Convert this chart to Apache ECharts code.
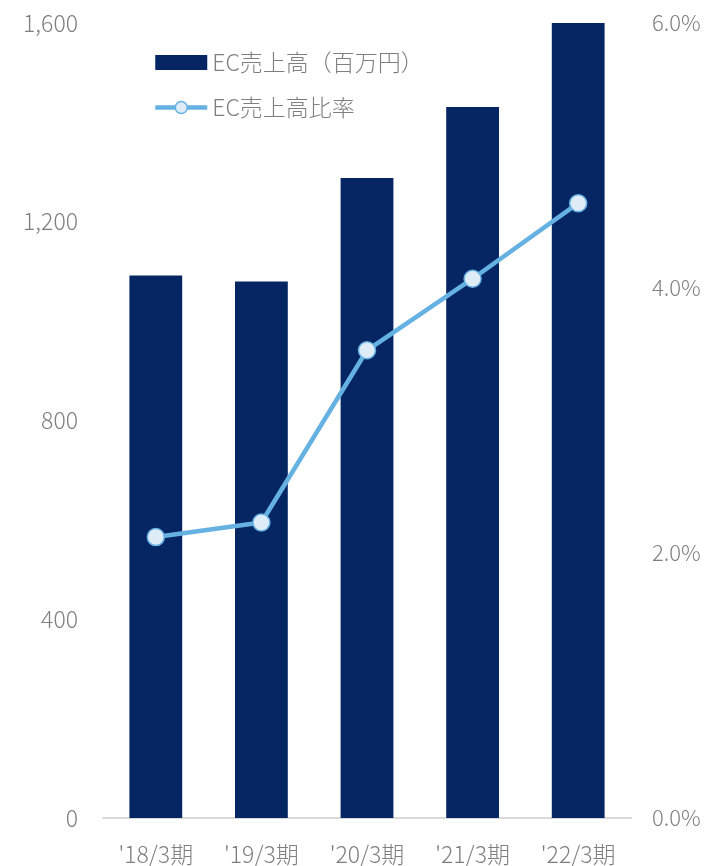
<!DOCTYPE html>
<html>
<head>
<meta charset="utf-8">
<script src="https://cdn.jsdelivr.net/npm/echarts@6/dist/echarts.min.js"></script>
<style>
  html, body { margin: 0; padding: 0; background: #fff; }
  #chart { width: 705px; height: 866px; }
</style>
</head>
<body>
<div id="chart"></div>
<script>
// Fiscal periods and EC sales figures
const categories = ["'18/3期", "'19/3期", "'20/3期", "'21/3期", "'22/3期"];
const ecSales = [1092, 1080, 1288, 1431, 1600];      // 百万円
const ecRatio = [2.12, 2.23, 3.53, 4.07, 4.64];      // %
const salesTicks = [0, 400, 800, 1200, 1600];
const ratioTicks = [0, 2, 4, 6];

const FONT = '"Noto Sans CJK JP", "Noto Sans", sans-serif';
const GRAY = '#7f7f7f';
const LINE_BLUE = '#65b1e2';
const DOT_FILL = '#deecf8';

const chart = echarts.init(document.getElementById('chart'), null, { renderer: 'canvas' });

chart.setOption({
  animation: false,
  textStyle: { fontFamily: FONT },
  grid: { left: 103, right: 74, top: 23, bottom: 48 },
  legend: {
    orient: 'vertical',
    left: 148,
    top: 46,
    itemWidth: 52,
    itemHeight: 15,
    itemGap: 22,
    textStyle: { color: GRAY, fontSize: 23, fontFamily: FONT, fontWeight: 300 },
    data: [
      { name: 'EC売上高（百万円）', icon: 'rect' },
      {
        name: 'EC売上高比率',
        lineStyle: { color: LINE_BLUE, width: 4.5 },
        itemStyle: { color: DOT_FILL, borderColor: LINE_BLUE, borderWidth: 1.5 }
      }
    ]
  },
  xAxis: {
    type: 'category',
    data: categories,
    axisLine: { lineStyle: { color: '#d9d9d9', width: 2 } },
    axisTick: { show: false },
    axisLabel: { color: GRAY, fontSize: 23, fontWeight: 300, margin: 25 }
  },
  yAxis: [
    {
      type: 'value',
      min: salesTicks[0],
      max: salesTicks[salesTicks.length - 1],
      interval: salesTicks[1] - salesTicks[0],
      splitLine: { show: false },
      axisLine: { show: false },
      axisTick: { show: false },
      axisLabel: {
        color: GRAY, fontSize: 23, fontWeight: 300, margin: 25,
        formatter: v => v.toLocaleString('en-US')
      }
    },
    {
      type: 'value',
      min: ratioTicks[0],
      max: ratioTicks[ratioTicks.length - 1],
      interval: ratioTicks[1] - ratioTicks[0],
      splitLine: { show: false },
      axisLine: { show: false },
      axisTick: { show: false },
      axisLabel: {
        color: GRAY, fontSize: 22, fontWeight: 300, margin: 21,
        formatter: v => v.toFixed(1) + '%'
      }
    }
  ],
  series: [
    {
      name: 'EC売上高（百万円）',
      type: 'bar',
      yAxisIndex: 0,
      data: ecSales,
      barWidth: '50%',
      itemStyle: { color: '#062563' }
    },
    {
      name: 'EC売上高比率',
      type: 'line',
      yAxisIndex: 1,
      data: ecRatio,
      symbol: 'circle',
      symbolSize: 17,
      lineStyle: { color: LINE_BLUE, width: 4.5 },
      itemStyle: { color: DOT_FILL, borderColor: LINE_BLUE, borderWidth: 1.5 }
    }
  ]
});
</script>
</body>
</html>
